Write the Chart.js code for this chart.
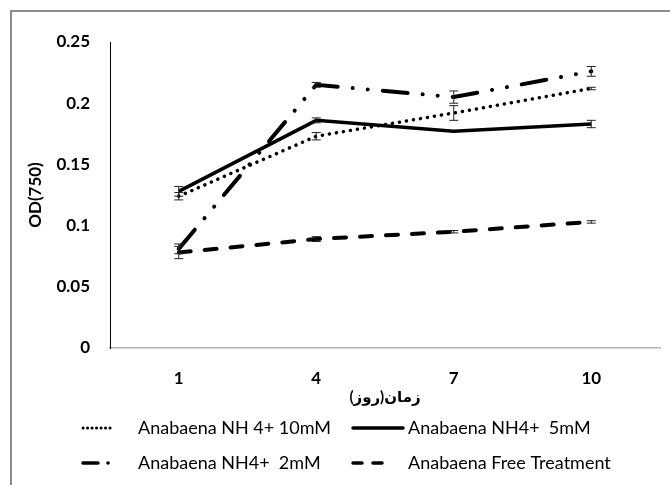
<!DOCTYPE html>
<html>
<head>
<meta charset="utf-8">
<script src="https://cdn.jsdelivr.net/npm/chart.js@4.4.1/dist/chart.umd.min.js"></script>
<style>
  body { margin: 0; background: #fff; }
  canvas { display: block; }
</style>
</head>
<body>
<canvas id="chart" width="670" height="485"></canvas>
<script>
let days = ['1', '4', '7', '10'];
let yTicks = [0, 0.05, 0.1, 0.15, 0.2, 0.25];
let yTickLabels = ['0', '0.05', '0.1', '0.15', '0.2', '0.25'];

let nh10 = [0.124, 0.173, 0.192, 0.212];
let nh10Err = [0.003, 0.003, 0.006, 0.001];
let nh5 = [0.128, 0.186, 0.177, 0.183];
let nh5Err = [0.004, 0.002, 0, 0.003];
let nh2 = [0.081, 0.215, 0.205, 0.226];
let nh2Err = [0.004, 0.002, 0.005, 0.004];
let free = [0.078, 0.089, 0.095, 0.103];
let freeErr = [0.005, 0.002, 0.001, 0.001];

let names = ['Anabaena NH 4+ 10mM', 'Anabaena NH4+  5mM', 'Anabaena NH4+  2mM', 'Anabaena Free Treatment'];

let font = "Lato, 'DejaVu Sans', sans-serif";

// error bars, drawn on top of the lines
let errorBars = {
  id: 'errorBars',
  afterDatasetsDraw(chart) {
    let ctx = chart.ctx;
    let y = chart.scales.y;
    ctx.save();
    ctx.strokeStyle = '#222';
    ctx.lineWidth = 1;
    chart.data.datasets.forEach((ds, i) => {
      chart.getDatasetMeta(i).data.forEach((pt, j) => {
        let e = ds.err[j];
        if (!e) return;
        let top = y.getPixelForValue(ds.data[j] + e);
        let bot = y.getPixelForValue(ds.data[j] - e);
        ctx.beginPath();
        ctx.moveTo(pt.x, top); ctx.lineTo(pt.x, bot);
        ctx.moveTo(pt.x - 4.5, top); ctx.lineTo(pt.x + 4.5, top);
        ctx.moveTo(pt.x - 4.5, bot); ctx.lineTo(pt.x + 4.5, bot);
        ctx.stroke();
      });
    });
    ctx.restore();
  }
};

// frame + 2x2 legend
let frameLegend = {
  id: 'frameLegend',
  beforeDraw(chart) {
    let ctx = chart.ctx;
    ctx.save();
    ctx.strokeStyle = '#8c8c8c';
    ctx.lineWidth = 2;
    ctx.beginPath();
    ctx.moveTo(11, 485); ctx.lineTo(11, 11); ctx.lineTo(670, 11);
    ctx.stroke();
    ctx.restore();
  },
  afterDraw(chart) {
    let ctx = chart.ctx;
    let cols = [83, 353];
    let rows = [428, 463];
    ctx.save();
    chart.data.datasets.forEach((ds, i) => {
      let x = cols[i % 2];
      let yy = rows[Math.floor(i / 2)];
      ctx.strokeStyle = '#000';
      ctx.lineWidth = ds.legendWidth;
      ctx.lineCap = 'round';
      ctx.setLineDash(ds.legendDash);
      ctx.beginPath();
      ctx.moveTo(x, yy); ctx.lineTo(x + ds.legendLen, yy);
      ctx.stroke();
      ctx.setLineDash([]);
      ctx.fillStyle = '#000';
      ctx.font = '18px ' + font;
      ctx.textBaseline = 'middle';
      ctx.fillText(ds.label, x + 55, yy);
    });
    ctx.restore();
  }
};

new Chart(document.getElementById('chart'), {
  type: 'line',
  data: {
    labels: days,
    datasets: [
      { label: names[0], data: nh10, err: nh10Err, borderColor: '#000', borderWidth: 3.5,
        borderDash: [0.1, 7], borderCapStyle: 'round', legendDash: [0.1, 4.4], legendWidth: 3, legendLen: 30 },
      { label: names[1], data: nh5, err: nh5Err, borderColor: '#000', borderWidth: 3.5,
        legendDash: [], legendWidth: 3.5, legendLen: 50 },
      { label: names[2], data: nh2, err: nh2Err, borderColor: '#000', borderWidth: 4,
        borderDash: [25, 15, 0.1, 15, 0.1, 15], borderCapStyle: 'round', legendDash: [15, 10, 0.1, 100], legendWidth: 3.5, legendLen: 30 },
      { label: names[3], data: free, err: freeErr, borderColor: '#000', borderWidth: 4,
        borderDash: [12, 14], borderCapStyle: 'round', legendDash: [9, 11], legendWidth: 3.5, legendLen: 30 },
    ],
  },
  options: {
    responsive: false,
    devicePixelRatio: 1,
    animation: false,
    layout: { padding: { top: 42, right: 10, bottom: 77, left: 0 } },
    elements: { point: { radius: 0 }, line: { tension: 0, fill: false } },
    plugins: { legend: { display: false }, tooltip: { enabled: false } },
    scales: {
      x: {
        offset: true,
        grid: { display: false },
        border: { color: '#b3b3b3', width: 1.5 },
        ticks: { color: '#000', padding: 12, font: { family: font, size: 17, weight: 'bold' } },
        title: { display: true, text: 'زمان(روز)', color: '#000', padding: { top: 0, bottom: 2 },
          font: { family: font, size: 15, weight: 'bold' } },
        afterFit(scale) { scale.height = 60; },
      },
      y: {
        min: 0, max: 0.25,
        grid: { display: false },
        border: { color: '#000', width: 1 },
        afterBuildTicks(scale) { scale.ticks = yTicks.map(v => ({ value: v })); },
        ticks: { color: '#000', padding: 12, font: { family: font, size: 17, weight: 'bold' },
          callback: (v) => yTickLabels[yTicks.indexOf(v)] },
        title: { display: true, text: 'OD(750)', color: '#000', padding: { top: 25, bottom: 0 },
          font: { family: font, size: 17, weight: 'bold' } },
        afterFit(scale) { scale.width = 110; },
      },
    },
  },
  plugins: [errorBars, frameLegend],
});
</script>
</body>
</html>
